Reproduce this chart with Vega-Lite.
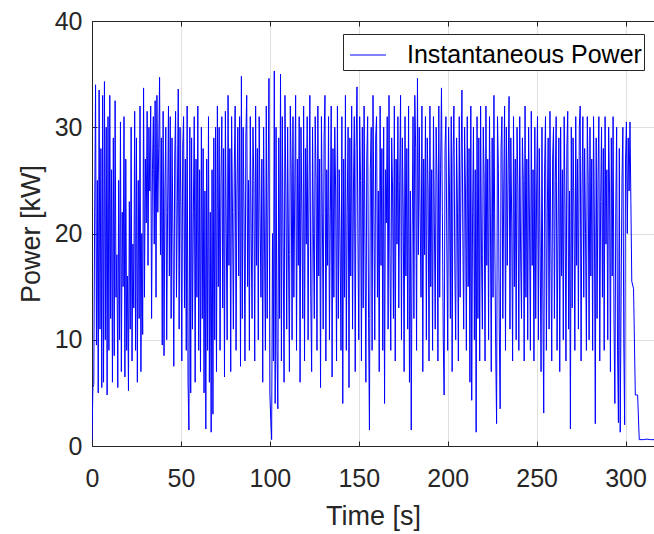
{
  "$schema": "https://vega.github.io/schema/vega-lite/v6.json",
  "width": 562,
  "height": 425,
  "autosize": {"type": "none"},
  "padding": {"left": 92, "top": 21, "right": 0, "bottom": 88},
  "config": {
    "font": "Liberation Sans",
    "view": {"stroke": null},
    "axis": {
      "labelFontSize": 25,
      "labelColor": "#262626",
      "labelFlush": false,
      "domainColor": "#262626",
      "domainWidth": 1,
      "tickColor": "#262626",
      "tickSize": -5,
      "gridColor": "#dfdfdf",
      "titleFontSize": 27,
      "titleFontWeight": "normal",
      "titleColor": "#262626"
    }
  },
  "layer": [
    {
      "data": {"values": [
{"t":0,"p":0.5},{"t":0.5,"p":5.5},{"t":1,"p":5.8},{"t":1.5,"p":22},{"t":2,"p":34},{"t":2.5,"p":9.5},{"t":3,"p":25},{"t":3.5,"p":5},{"t":4,"p":33.5},{"t":4.5,"p":11},{"t":5,"p":28},{"t":5.5,"p":5.5},{"t":6,"p":33},{"t":6.5,"p":6},{"t":7,"p":34.3},{"t":7.5,"p":10},{"t":8,"p":30},{"t":8.5,"p":4.8},{"t":9,"p":31},{"t":9.5,"p":9},
{"t":10,"p":33},{"t":10.5,"p":12},{"t":11,"p":26},{"t":11.5,"p":6},{"t":12,"p":29},{"t":12.5,"p":8.5},{"t":13,"p":32.5},{"t":13.5,"p":14},{"t":14,"p":18},{"t":14.5,"p":5.5},{"t":15,"p":25},{"t":15.5,"p":10},{"t":16,"p":30.5},{"t":16.5,"p":7},{"t":17,"p":22},{"t":17.5,"p":15},{"t":18,"p":31},{"t":18.5,"p":6.5},{"t":19,"p":27},{"t":19.5,"p":9},
{"t":20,"p":16},{"t":20.5,"p":5.2},{"t":21,"p":23},{"t":21.5,"p":11},{"t":22,"p":30},{"t":22.5,"p":8},{"t":23,"p":19},{"t":23.5,"p":13},{"t":24,"p":31.5},{"t":24.5,"p":9},{"t":25,"p":29},{"t":25.5,"p":6},{"t":26,"p":25},{"t":26.5,"p":12},{"t":27,"p":32},{"t":27.5,"p":7},{"t":28,"p":20},{"t":28.5,"p":10.5},{"t":29,"p":33.7},{"t":29.5,"p":14},
{"t":30,"p":27},{"t":30.5,"p":21},{"t":31,"p":31.5},{"t":31.5,"p":17},{"t":32,"p":30},{"t":32.5,"p":24},{"t":33,"p":32},{"t":33.5,"p":12},{"t":34,"p":26},{"t":34.5,"p":31},{"t":35,"p":19},{"t":35.5,"p":32.5},{"t":36,"p":14},{"t":36.5,"p":33},{"t":37,"p":22},{"t":37.5,"p":28},{"t":38,"p":34.7},{"t":38.5,"p":18},{"t":39,"p":29},{"t":39.5,"p":9.5},
{"t":40,"p":31.5},{"t":40.5,"p":8.5},{"t":41,"p":24},{"t":41.5,"p":30},{"t":42,"p":10},{"t":42.5,"p":22},{"t":43,"p":32},{"t":43.5,"p":16},{"t":44,"p":31},{"t":44.5,"p":12},{"t":45,"p":29},{"t":45.5,"p":20},{"t":46,"p":7.5},{"t":46.5,"p":27},{"t":47,"p":31.5},{"t":47.5,"p":14},{"t":48,"p":23},{"t":48.5,"p":33.6},{"t":49,"p":11},{"t":49.5,"p":30},
{"t":50,"p":22},{"t":50.5,"p":8},{"t":51,"p":28},{"t":51.5,"p":31},{"t":52,"p":13},{"t":52.5,"p":27},{"t":53,"p":9},{"t":53.5,"p":32},{"t":54,"p":6},{"t":54.5,"p":1.5},{"t":55,"p":30},{"t":55.5,"p":5},{"t":56,"p":29},{"t":56.5,"p":11},{"t":57,"p":22},{"t":57.5,"p":31},{"t":58,"p":6},{"t":58.5,"p":27},{"t":59,"p":14},{"t":59.5,"p":32},
{"t":60,"p":9},{"t":60.5,"p":26},{"t":61,"p":7},{"t":61.5,"p":30},{"t":62,"p":12},{"t":62.5,"p":28},{"t":63,"p":5},{"t":63.5,"p":24},{"t":64,"p":1.6},{"t":64.5,"p":27},{"t":65,"p":9},{"t":65.5,"p":31},{"t":66,"p":6},{"t":66.5,"p":22},{"t":67,"p":1.3},{"t":67.5,"p":26},{"t":68,"p":3},{"t":68.5,"p":29},{"t":69,"p":10},{"t":69.5,"p":30},
{"t":70,"p":7},{"t":70.5,"p":32},{"t":71,"p":15},{"t":71.5,"p":30},{"t":72,"p":9},{"t":72.5,"p":25},{"t":73,"p":31},{"t":73.5,"p":13},{"t":74,"p":28},{"t":74.5,"p":6.5},{"t":75,"p":31.5},{"t":75.5,"p":20},{"t":76,"p":10},{"t":76.5,"p":33},{"t":77,"p":17},{"t":77.5,"p":28},{"t":78,"p":7},{"t":78.5,"p":31},{"t":79,"p":22},{"t":79.5,"p":11},
{"t":80,"p":26},{"t":80.5,"p":32},{"t":81,"p":9},{"t":81.5,"p":24},{"t":82,"p":30},{"t":82.5,"p":16},{"t":83,"p":31},{"t":83.5,"p":7.5},{"t":84,"p":34.8},{"t":84.5,"p":12},{"t":85,"p":30},{"t":85.5,"p":22},{"t":86,"p":8},{"t":86.5,"p":29},{"t":87,"p":33},{"t":87.5,"p":15},{"t":88,"p":25},{"t":88.5,"p":9},{"t":89,"p":31},{"t":89.5,"p":20},
{"t":90,"p":12},{"t":90.5,"p":30},{"t":91,"p":25},{"t":91.5,"p":8},{"t":92,"p":32},{"t":92.5,"p":17},{"t":93,"p":28},{"t":93.5,"p":10},{"t":94,"p":31},{"t":94.5,"p":22},{"t":95,"p":14},{"t":95.5,"p":27},{"t":96,"p":6},{"t":96.5,"p":30},{"t":97,"p":19},{"t":97.5,"p":9},{"t":98,"p":32},{"t":98.5,"p":12},{"t":99,"p":24},{"t":99.5,"p":34.6},
{"t":100,"p":5},{"t":100.5,"p":2.5},{"t":101,"p":0.6},{"t":101.5,"p":20},{"t":102,"p":8},{"t":102.5,"p":35.3},{"t":103,"p":4},{"t":103.5,"p":30},{"t":104,"p":9},{"t":104.5,"p":3.5},{"t":105,"p":29},{"t":105.5,"p":12},{"t":106,"p":35},{"t":106.5,"p":8},{"t":107,"p":31},{"t":107.5,"p":19},{"t":108,"p":6},{"t":108.5,"p":33},{"t":109,"p":24},{"t":109.5,"p":11},
{"t":110,"p":30},{"t":110.5,"p":18},{"t":111,"p":7},{"t":111.5,"p":32},{"t":112,"p":26},{"t":112.5,"p":10},{"t":113,"p":31},{"t":113.5,"p":14},{"t":114,"p":24},{"t":114.5,"p":33},{"t":115,"p":9},{"t":115.5,"p":27},{"t":116,"p":17},{"t":116.5,"p":31},{"t":117,"p":6},{"t":117.5,"p":30},{"t":118,"p":22},{"t":118.5,"p":12},{"t":119,"p":32},{"t":119.5,"p":8},
{"t":120,"p":28},{"t":120.5,"p":19},{"t":121,"p":31},{"t":121.5,"p":10},{"t":122,"p":24},{"t":122.5,"p":33},{"t":123,"p":14},{"t":123.5,"p":7},{"t":124,"p":30},{"t":124.5,"p":20},{"t":125,"p":12},{"t":125.5,"p":31},{"t":126,"p":25},{"t":126.5,"p":9},{"t":127,"p":32},{"t":127.5,"p":16},{"t":128,"p":27},{"t":128.5,"p":5.5},{"t":129,"p":31},{"t":129.5,"p":22},
{"t":130,"p":11},{"t":130.5,"p":29},{"t":131,"p":33},{"t":131.5,"p":8},{"t":132,"p":26},{"t":132.5,"p":17},{"t":133,"p":31},{"t":133.5,"p":10},{"t":134,"p":22},{"t":134.5,"p":32},{"t":135,"p":6.5},{"t":135.5,"p":28},{"t":136,"p":14},{"t":136.5,"p":30},{"t":137,"p":24},{"t":137.5,"p":8},{"t":138,"p":32},{"t":138.5,"p":12},{"t":139,"p":26},{"t":139.5,"p":19},
{"t":140,"p":9},{"t":140.5,"p":31},{"t":141,"p":4},{"t":141.5,"p":27},{"t":142,"p":14},{"t":142.5,"p":33},{"t":143,"p":9},{"t":143.5,"p":22},{"t":144,"p":30},{"t":144.5,"p":5.5},{"t":145,"p":29},{"t":145.5,"p":16},{"t":146,"p":32},{"t":146.5,"p":11},{"t":147,"p":24},{"t":147.5,"p":31},{"t":148,"p":7},{"t":148.5,"p":28},{"t":149,"p":33.8},{"t":149.5,"p":20},
{"t":150,"p":10},{"t":150.5,"p":31},{"t":151,"p":25},{"t":151.5,"p":8},{"t":152,"p":30},{"t":152.5,"p":13},{"t":153,"p":32},{"t":153.5,"p":19},{"t":154,"p":6},{"t":154.5,"p":27},{"t":155,"p":31},{"t":155.5,"p":12},{"t":156,"p":1.5},{"t":156.5,"p":26},{"t":157,"p":30},{"t":157.5,"p":9},{"t":158,"p":33},{"t":158.5,"p":22},{"t":159,"p":10},{"t":159.5,"p":29},
{"t":160,"p":31},{"t":160.5,"p":14},{"t":161,"p":24},{"t":161.5,"p":7},{"t":162,"p":32},{"t":162.5,"p":17},{"t":163,"p":28},{"t":163.5,"p":9},{"t":164,"p":30},{"t":164.5,"p":4},{"t":165,"p":26},{"t":165.5,"p":21},{"t":166,"p":31},{"t":166.5,"p":11},{"t":167,"p":33},{"t":167.5,"p":18},{"t":168,"p":9},{"t":168.5,"p":29},{"t":169,"p":24},{"t":169.5,"p":12},
{"t":170,"p":32},{"t":170.5,"p":8},{"t":171,"p":27},{"t":171.5,"p":19},{"t":172,"p":31},{"t":172.5,"p":13},{"t":173,"p":25},{"t":173.5,"p":33},{"t":174,"p":10},{"t":174.5,"p":29},{"t":175,"p":22},{"t":175.5,"p":7},{"t":176,"p":31},{"t":176.5,"p":16},{"t":177,"p":28},{"t":177.5,"p":11},{"t":178,"p":32},{"t":178.5,"p":6},{"t":179,"p":24},{"t":179.5,"p":1.5},
{"t":180,"p":20},{"t":180.5,"p":31},{"t":181,"p":12},{"t":181.5,"p":33},{"t":182,"p":28},{"t":182.5,"p":9},{"t":183,"p":34.6},{"t":183.5,"p":18},{"t":184,"p":30},{"t":184.5,"p":22},{"t":185,"p":14},{"t":185.5,"p":32},{"t":186,"p":7},{"t":186.5,"p":27},{"t":187,"p":18},{"t":187.5,"p":31},{"t":188,"p":10},{"t":188.5,"p":29},{"t":189,"p":24},{"t":189.5,"p":8},
{"t":190,"p":32},{"t":190.5,"p":15},{"t":191,"p":26},{"t":191.5,"p":9},{"t":192,"p":31},{"t":192.5,"p":21},{"t":193,"p":11},{"t":193.5,"p":30},{"t":194,"p":25},{"t":194.5,"p":8},{"t":195,"p":32},{"t":195.5,"p":14},{"t":196,"p":26},{"t":196.5,"p":33.7},{"t":197,"p":22},{"t":197.5,"p":10},{"t":198,"p":4.8},{"t":198.5,"p":28},{"t":199,"p":31},{"t":199.5,"p":19},
{"t":200,"p":9},{"t":200.5,"p":30},{"t":201,"p":24},{"t":201.5,"p":12},{"t":202,"p":31},{"t":202.5,"p":7},{"t":203,"p":27},{"t":203.5,"p":32},{"t":204,"p":17},{"t":204.5,"p":10},{"t":205,"p":29},{"t":205.5,"p":22},{"t":206,"p":8},{"t":206.5,"p":31},{"t":207,"p":14},{"t":207.5,"p":26},{"t":208,"p":33.5},{"t":208.5,"p":20},{"t":209,"p":11},{"t":209.5,"p":30},
{"t":210,"p":24},{"t":210.5,"p":9},{"t":211,"p":31},{"t":211.5,"p":15},{"t":212,"p":28},{"t":212.5,"p":6},{"t":213,"p":32},{"t":213.5,"p":4.3},{"t":214,"p":22},{"t":214.5,"p":30},{"t":215,"p":10},{"t":215.5,"p":26},{"t":216,"p":1.3},{"t":216.5,"p":31},{"t":217,"p":12},{"t":217.5,"p":29},{"t":218,"p":8},{"t":218.5,"p":32},{"t":219,"p":18},{"t":219.5,"p":11},
{"t":220,"p":30},{"t":220.5,"p":25},{"t":221,"p":8},{"t":221.5,"p":32},{"t":222,"p":17},{"t":222.5,"p":27},{"t":223,"p":10},{"t":223.5,"p":31},{"t":224,"p":22},{"t":224.5,"p":7},{"t":225,"p":29},{"t":225.5,"p":14},{"t":226,"p":33},{"t":226.5,"p":19},{"t":227,"p":9},{"t":227.5,"p":2.1},{"t":228,"p":31},{"t":228.5,"p":26},{"t":229,"p":11},{"t":229.5,"p":3.5},
{"t":230,"p":28},{"t":230.5,"p":31},{"t":231,"p":12},{"t":231.5,"p":24},{"t":232,"p":32},{"t":232.5,"p":9},{"t":233,"p":30},{"t":233.5,"p":17},{"t":234,"p":26},{"t":234.5,"p":32.9},{"t":235,"p":11},{"t":235.5,"p":29},{"t":236,"p":21},{"t":236.5,"p":8},{"t":237,"p":31},{"t":237.5,"p":15},{"t":238,"p":27},{"t":238.5,"p":10},{"t":239,"p":30},{"t":239.5,"p":24},
{"t":240,"p":9},{"t":240.5,"p":31},{"t":241,"p":18},{"t":241.5,"p":12},{"t":242,"p":29},{"t":242.5,"p":25},{"t":243,"p":8},{"t":243.5,"p":32},{"t":244,"p":14},{"t":244.5,"p":27},{"t":245,"p":10},{"t":245.5,"p":30},{"t":246,"p":21},{"t":246.5,"p":9},{"t":247,"p":31.5},{"t":247.5,"p":17},{"t":248,"p":26},{"t":248.5,"p":8},{"t":249,"p":30},{"t":249.5,"p":12},
{"t":250,"p":24},{"t":250.5,"p":31},{"t":251,"p":10},{"t":251.5,"p":28},{"t":252,"p":18},{"t":252.5,"p":7},{"t":253,"p":30},{"t":253.5,"p":14},{"t":254,"p":3.1},{"t":254.5,"p":26},{"t":255,"p":31},{"t":255.5,"p":9},{"t":256,"p":22},{"t":256.5,"p":29},{"t":257,"p":11},{"t":257.5,"p":31.5},{"t":258,"p":19},{"t":258.5,"p":8},{"t":259,"p":27},{"t":259.5,"p":30},
{"t":260,"p":12},{"t":260.5,"p":25},{"t":261,"p":31},{"t":261.5,"p":9},{"t":262,"p":20},{"t":262.5,"p":29},{"t":263,"p":7},{"t":263.5,"p":30},{"t":264,"p":16},{"t":264.5,"p":26},{"t":265,"p":10},{"t":265.5,"p":31},{"t":266,"p":22},{"t":266.5,"p":8},{"t":267,"p":28},{"t":267.5,"p":31.5},{"t":268,"p":11},{"t":268.5,"p":24},{"t":269,"p":1.6},{"t":269.5,"p":30},
{"t":270,"p":13},{"t":270.5,"p":29},{"t":271,"p":22},{"t":271.5,"p":9},{"t":272,"p":31},{"t":272.5,"p":17},{"t":273,"p":27},{"t":273.5,"p":11},{"t":274,"p":30},{"t":274.5,"p":32},{"t":275,"p":8},{"t":275.5,"p":24},{"t":276,"p":31},{"t":276.5,"p":14},{"t":277,"p":28},{"t":277.5,"p":20},{"t":278,"p":9},{"t":278.5,"p":31},{"t":279,"p":25},{"t":279.5,"p":10},
{"t":280,"p":30},{"t":280.5,"p":16},{"t":281,"p":27},{"t":281.5,"p":9},{"t":282,"p":31},{"t":282.5,"p":21},{"t":283,"p":2.1},{"t":283.5,"p":29},{"t":284,"p":12},{"t":284.5,"p":25},{"t":285,"p":31},{"t":285.5,"p":8},{"t":286,"p":23},{"t":286.5,"p":30},{"t":287,"p":14},{"t":287.5,"p":28},{"t":288,"p":9},{"t":288.5,"p":31},{"t":289,"p":19},{"t":289.5,"p":26},
{"t":290,"p":10},{"t":290.5,"p":30},{"t":291,"p":24},{"t":291.5,"p":7},{"t":292,"p":29},{"t":292.5,"p":16},{"t":293,"p":31},{"t":293.5,"p":12},{"t":294,"p":4},{"t":294.5,"p":22},{"t":295,"p":30},{"t":295.5,"p":9},{"t":296,"p":2.2},{"t":296.5,"p":28},{"t":297,"p":1.3},{"t":297.5,"p":14},{"t":298,"p":25},{"t":298.5,"p":30},{"t":299,"p":10},{"t":299.5,"p":2.0},
{"t":300,"p":27},{"t":300.5,"p":30.5},{"t":301,"p":20},{"t":301.5,"p":29},{"t":302,"p":24},{"t":302.5,"p":30.5},{"t":303,"p":23},{"t":303.5,"p":15.5},{"t":304.5,"p":14.8},{"t":305.5,"p":4.8},{"t":306.8,"p":4.8},{"t":307.7,"p":0.6},{"t":310,"p":0.6},{"t":312,"p":0.65},{"t":314,"p":0.6},{"t":316,"p":0.6}
      ]},
      "mark": {"type": "line", "strokeWidth": 1, "clip": true},
      "encoding": {
        "x": {
          "field": "t", "type": "quantitative",
          "scale": {"domain": [0, 316], "nice": false, "zero": false},
          "axis": {"orient": "bottom", "values": [0, 50, 100, 150, 200, 250, 300], "title": "Time [s]", "labelPadding": 25, "titlePadding": 12, "grid": true}
        },
        "y": {
          "field": "p", "type": "quantitative",
          "scale": {"domain": [0, 40], "nice": false},
          "axis": {"values": [0, 10, 20, 30, 40], "title": "Power [kW]", "labelPadding": 15, "titlePadding": 9, "grid": true}
        },
        "color": {
          "datum": "Instantaneous Power",
          "scale": {"range": ["#0000ff"]},
          "legend": {
            "title": null,
            "orient": "none",
            "legendX": 251,
            "legendY": 13,
            "symbolType": "stroke",
            "symbolSize": 1296,
            "symbolStrokeWidth": 1.2,
            "symbolOffset": 4,
            "labelFontSize": 25,
            "labelLimit": 0,
            "labelColor": "#000000",
            "labelOffset": 20,
            "padding": 2,
            "strokeColor": "#262626",
            "fillColor": "#ffffff",
            "cornerRadius": 0
          }
        }
      }
    },
    {
      "data": {"values": [{"t": 0}]},
      "mark": {"type": "rule", "opacity": 0},
      "encoding": {
        "x": {
          "field": "t", "type": "quantitative",
          "axis": {"orient": "top", "values": [0, 50, 100, 150, 200, 250, 300], "labels": false, "title": null, "grid": false}
        }
      }
    }
  ],
  "resolve": {"axis": {"x": "independent"}}
}
